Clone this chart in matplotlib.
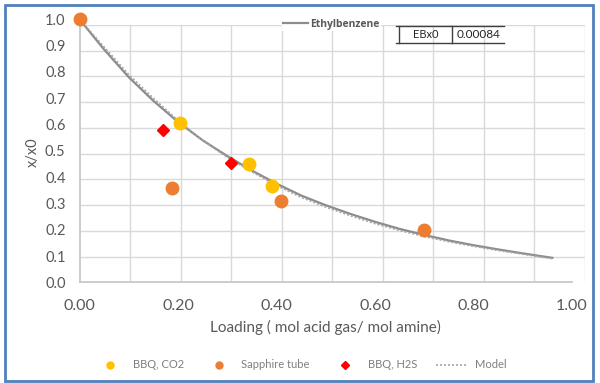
import numpy as np
import matplotlib.pyplot as plt
from matplotlib.lines import Line2D
from matplotlib.patches import Rectangle

plt.rcParams['font.family'] = ['Lato', 'DejaVu Sans']

# Ethylbenzene curve
eb_x = [0.0, 0.05, 0.10, 0.15, 0.20, 0.25, 0.30, 0.35, 0.40, 0.45,
        0.50, 0.55, 0.60, 0.65, 0.70, 0.75, 0.80, 0.85, 0.90, 0.96]
eb_y = [1.0, 0.885, 0.78, 0.69, 0.61, 0.54, 0.48, 0.425, 0.375, 0.33,
        0.293, 0.26, 0.23, 0.203, 0.18, 0.159, 0.141, 0.125, 0.11, 0.093]
# Model curve (dotted)
model_x = eb_x
model_y = [1.0, 0.895, 0.79, 0.70, 0.615, 0.54, 0.475, 0.42, 0.368, 0.323,
           0.286, 0.253, 0.223, 0.197, 0.174, 0.154, 0.137, 0.121, 0.107, 0.09]

co2_x = [0.204, 0.345, 0.39]
co2_y = [0.605, 0.45, 0.367]
sapph_x = [0.0, 0.188, 0.41, 0.70]
sapph_y = [1.0, 0.36, 0.308, 0.197]
h2s_x = [0.17, 0.308]
h2s_y = [0.58, 0.455]

W, H = 600, 383
fx = lambda px: px / W
fy = lambda py: 1 - py / H

gray_txt = '#595959'
fig = plt.figure(figsize=(6, 3.83), dpi=100)

# gridlines live on a slightly larger secondary box (as in the original)
gax = fig.add_axes([fx(79.5), fy(282.3), fx(585) - fx(79.5), fy(25) - fy(282.3)])
gax.set_xlim(0, 1)
gax.set_ylim(0, 1)
gax.set_xticks(np.arange(0.1, 1.01, 0.1))
gax.set_yticks(np.arange(0.1, 1.01, 0.1))
gax.grid(color='#D9D9D9', lw=1)
gax.tick_params(length=0, labelbottom=False, labelleft=False)
for s in ['top', 'right', 'bottom']:
    gax.spines[s].set_visible(False)
gax.spines['left'].set_color('#C8C8C8')
gax.spines['left'].set_linewidth(1.3)

ax = fig.add_axes([fx(79.5), fy(282.3), fx(572) - fx(79.5), fy(19.3) - fy(282.3)])
ax.patch.set_alpha(0)
ax.set_xlim(0, 1)
ax.set_ylim(0, 1)
for s in ['top', 'right', 'left']:
    ax.spines[s].set_visible(False)
ax.spines['bottom'].set_color('#C8C8C8')
ax.spines['bottom'].set_linewidth(1.3)
ax.set_xticks(np.arange(0, 1.01, 0.2))
ax.set_yticks(np.arange(0, 1.01, 0.1))
ax.set_xticklabels([f'{v:.2f}' for v in np.arange(0, 1.01, 0.2)])
ax.set_yticklabels([f'{v:.1f}' for v in np.arange(0, 1.01, 0.1)])
ax.tick_params(axis='x', length=0, pad=12, labelsize=11.5, labelcolor=gray_txt)
ax.tick_params(axis='y', length=0, pad=10, labelsize=10.5, labelcolor=gray_txt)

eb_line, = ax.plot(eb_x, eb_y, color='#8C8C8C', lw=1.6, label='Ethylbenzene', zorder=3)
model_line, = ax.plot(model_x, model_y, color='#A6A6A6', lw=1.2, ls=(0, (1.2, 1.2)),
                      label='Model', zorder=3)
ax.plot(co2_x, co2_y, 'o', color='#FFC000', ms=9, clip_on=False, zorder=4)
ax.plot(sapph_x, sapph_y, 'o', color='#ED7D31', ms=9, clip_on=False, zorder=4)
ax.plot(h2s_x, h2s_y, 'D', color='#FF0000', ms=6, clip_on=False, zorder=4)

fig.text(fx(33), fy(152), 'x/x0', rotation=90, ha='center', va='center',
         fontsize=10.5, color=gray_txt)
fig.text(fx(325), fy(327), 'Loading ( mol acid gas/ mol amine)', ha='center',
         va='center', fontsize=11, color=gray_txt)

# top legend for the solid curve
fig.legend(handles=[eb_line], loc='center left', bbox_to_anchor=(fx(277), fy(24)),
           frameon=True, fancybox=False, framealpha=1, edgecolor='none',
           facecolor='white', borderpad=0.1, handlelength=2.4, handletextpad=0.2,
           prop={'family': 'Open Sans', 'size': 7.5, 'weight': 'bold'}, labelcolor=gray_txt)

# bottom legend
handles = [
    Line2D([], [], ls='none', marker='o', color='#FFC000', ms=5, label='BBQ, CO2'),
    Line2D([], [], ls='none', marker='o', color='#ED7D31', ms=5, label='Sapphire tube'),
    Line2D([], [], ls='none', marker='D', color='#FF0000', ms=4, label='BBQ, H2S'),
    Line2D([], [], color='#A6A6A6', lw=1.2, ls=(0, (1.2, 1.2)), label='Model'),
]
fig.legend(handles=handles, loc='center', bbox_to_anchor=(fx(300), fy(365)), ncol=4,
           frameon=False, fontsize=8, labelcolor='#7F7F7F', handlelength=2.9,
           handletextpad=0.6, columnspacing=1.7)

# small EBx0 table
tcol = '#404040'
for yy in [26, 43]:
    fig.add_artist(Line2D([fx(396), fx(504)], [fy(yy), fy(yy)], color=tcol, lw=1,
                          transform=fig.transFigure))
for xx in [399, 452]:
    fig.add_artist(Line2D([fx(xx), fx(xx)], [fy(26), fy(43)], color=tcol, lw=1,
                          transform=fig.transFigure))
fig.text(fx(426), fy(35), 'EBx0', ha='center', va='center', fontsize=8, color='#262626')
fig.text(fx(479), fy(35), '0.00084', ha='center', va='center', fontsize=8.5, color='#262626')

# outer blue frame
fig.add_artist(Rectangle((fx(5), fy(381)), fx(593) - fx(5), fy(5) - fy(381),
                         transform=fig.transFigure, fill=False, edgecolor='#4F81BD', lw=2))

fig.savefig('out.png', dpi=100)
